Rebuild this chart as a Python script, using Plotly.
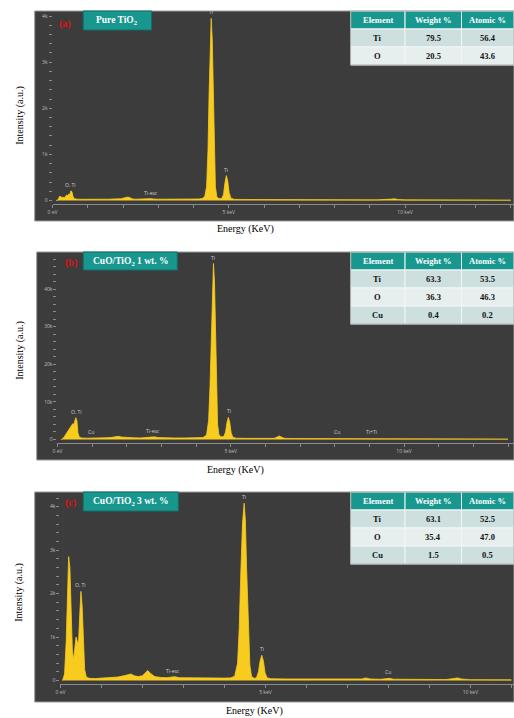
import plotly.graph_objects as go

W, H = 514, 718
def px(x): return x / W
def py(y): return 1 - y / H

# ---------------- data ----------------
# Panel (a) Pure TiO2
energy_a = [0.10, 0.15, 0.18, 0.21, 0.24, 0.27, 0.30, 0.33, 0.37, 0.40, 0.43, 0.46, 0.49, 0.52, 0.55,
            0.58, 0.62, 0.70, 0.85, 1.00, 1.15, 1.30, 1.45, 1.60, 1.75, 1.85, 1.95, 2.02, 2.08, 2.14,
            2.20, 2.27, 2.35, 2.50, 2.65, 2.72, 2.78, 2.85, 3.00, 3.20, 3.40, 3.60, 3.80, 4.00, 4.15,
            4.25, 4.32, 4.37, 4.41, 4.44, 4.47, 4.50, 4.53, 4.56, 4.59, 4.62, 4.66, 4.72, 4.80, 4.85,
            4.89, 4.93, 4.97, 5.01, 5.06, 5.15, 5.40, 5.70, 6.00, 6.40, 6.80, 7.20, 7.60, 8.00, 8.40,
            8.80, 9.20, 9.50, 9.62, 9.70, 9.80, 10.0, 10.5, 11.0, 11.5, 12.0, 12.5, 13.0]
counts_a = [0, 10, 60, 95, 80, 60, 75, 55, 90, 120, 105, 140, 130, 210, 190,
            90, 40, 28, 26, 24, 27, 25, 30, 28, 34, 30, 38, 55, 72, 75,
            58, 35, 28, 27, 30, 38, 42, 32, 28, 27, 26, 28, 27, 29, 32,
            45, 90, 300, 1100, 2300, 3400, 3950, 3500, 2300, 1000, 300, 80, 40, 45, 130,
            380, 540, 420, 170, 50, 25, 22, 20, 22, 26, 19, 18, 17, 18, 16,
            15, 15, 18, 30, 38, 22, 14, 13, 12, 11, 10, 10, 9]

# Panel (b) CuO/TiO2 1 wt.%
energy_b = [0.10, 0.15, 0.20, 0.25, 0.30, 0.35, 0.40, 0.44, 0.47, 0.50, 0.53, 0.56, 0.59, 0.63, 0.70,
            0.85, 1.00, 1.20, 1.40, 1.55, 1.65, 1.75, 1.85, 2.00, 2.20, 2.40, 2.60, 2.72, 2.80, 2.90,
            3.10, 3.40, 3.70, 4.00, 4.20, 4.30, 4.36, 4.40, 4.44, 4.47, 4.50, 4.53, 4.56, 4.59, 4.62,
            4.66, 4.72, 4.80, 4.85, 4.89, 4.93, 4.97, 5.01, 5.06, 5.15, 5.40, 5.70, 6.00, 6.25, 6.33,
            6.40, 6.47, 6.55, 6.80, 7.20, 7.60, 8.00, 8.05, 8.40, 8.80, 9.00, 9.30, 9.70, 10.0, 10.5,
            11.0, 11.5, 12.0, 12.5, 13.0]
counts_b = [0, 200, 800, 1500, 2200, 3000, 3900, 4200, 4000, 5000, 5800, 5000, 1800, 600, 400,
            350, 340, 380, 450, 550, 750, 850, 650, 500, 450, 420, 480, 650, 700, 500,
            420, 400, 420, 450, 500, 1200, 5000, 14000, 30000, 41000, 46800, 42000, 29000, 13000, 4000,
            1200, 700, 800, 2000, 4500, 5900, 4600, 1800, 600, 350, 300, 280, 270, 300, 600,
            950, 600, 300, 260, 240, 230, 260, 280, 220, 220, 250, 210, 200, 190, 180,
            170, 160, 150, 140, 130]

# Panel (c) CuO/TiO2 3 wt.%
energy_c = [0.05, 0.10, 0.14, 0.17, 0.20, 0.23, 0.26, 0.29, 0.32, 0.35, 0.38, 0.41, 0.44, 0.47, 0.50,
            0.53, 0.56, 0.59, 0.63, 0.70, 0.85, 1.00, 1.20, 1.40, 1.55, 1.65, 1.72, 1.80, 1.90, 2.00,
            2.08, 2.13, 2.20, 2.30, 2.45, 2.60, 2.72, 2.80, 2.90, 3.10, 3.40, 3.70, 4.00, 4.15, 4.25,
            4.32, 4.36, 4.40, 4.44, 4.48, 4.51, 4.54, 4.58, 4.62, 4.66, 4.72, 4.78, 4.83, 4.87, 4.91,
            4.95, 4.99, 5.04, 5.15, 5.50, 5.90, 6.20, 6.35, 6.45, 6.70, 7.00, 7.35, 7.45, 7.55, 7.80,
            7.95, 8.03, 8.12, 8.50, 9.00, 9.40, 9.60, 9.68, 9.78, 10.0, 10.5, 11.0]
counts_c = [0, 150, 900, 2000, 2850, 2600, 1500, 700, 480, 750, 1000, 900, 850, 1500, 2050,
            1700, 800, 250, 80, 50, 45, 55, 60, 80, 110, 140, 150, 110, 90, 110,
            200, 230, 160, 90, 70, 65, 80, 85, 65, 60, 55, 60, 55, 60, 100,
            400, 1200, 2500, 3600, 4080, 3700, 2600, 1200, 350, 100, 50, 60, 200, 450, 580,
            450, 180, 60, 40, 35, 32, 30, 45, 40, 28, 28, 35, 60, 35, 28,
            45, 50, 30, 25, 22, 22, 45, 60, 35, 20, 18, 16]

# Peak labels
peak_text_a = ["Ti", "Ti", "O, Ti", "Ti-esc"]
peak_e_a = [4.50, 4.93, 0.52, 2.78]
peak_y_a = [3950, 540, 210, 42]

peak_text_b = ["Ti", "Ti", "O, Ti", "Cu", "Ti-esc", "Cu", "Ti+Ti"]
peak_e_b = [4.50, 4.96, 0.55, 0.96, 2.77, 8.06, 9.06]
peak_y_b = [46800, 5900, 5800, 300, 600, 300, 300]

peak_text_c = ["Ti", "Ti", "O, Ti", "Ti-esc", "Cu"]
peak_e_c = [4.48, 4.91, 0.50, 2.75, 8.00]
peak_y_c = [4080, 580, 2050, 85, 50]

# Tables
elements_a = ["Ti", "O"]
weight_a = [79.5, 20.5]
atomic_a = [56.4, 43.6]
elements_b = ["Ti", "O", "Cu"]
weight_b = [63.3, 36.3, 0.4]
atomic_b = [53.5, 46.3, 0.2]
elements_c = ["Ti", "O", "Cu"]
weight_c = [63.1, 35.4, 1.5]
atomic_c = [52.5, 47.0, 0.5]
table_header = ["Element", "Weight %", "Atomic %"]

# Axis ticks
x_major_vals = [0, 5, 10]
x_major_text = ["0 eV", "5 keV", "10 keV"]
yticks_a = [0, 1000, 2000, 3000, 4000]
yticklabels_a = ["0", "1k", "2k", "3k", "4k"]
yticks_b = [0, 10000, 20000, 30000, 40000]
yticklabels_b = ["0", "10k", "20k", "30k", "40k"]
yticks_c = [0, 1000, 2000, 3000, 4000]
yticklabels_c = ["0", "1k", "2k", "3k", "4k"]

titles = ["Pure TiO<sub>2</sub>", "CuO/TiO<sub>2</sub> 1 wt. %", "CuO/TiO<sub>2</sub> 3 wt. %"]
panel_tags = ["(a)", "(b)", "(c)"]

# ---------------- styles / geometry ----------------
DARK = "#3c3c3c"
YEL = "#f8cc1f"
TEAL = "#18978f"
TICKC = "#bdbdbd"
SERIF = "Liberation Serif"
SANS = "Open Sans"
ROW_FILLS = ["#cde0df", "#e7efee"]
COL_EDGES = [349, 404, 461, 514]
ROW_H = 18

panels = [
    dict(E=energy_a, C=counts_a, pt=peak_text_a, pe=peak_e_a, py=peak_y_a,
         dark=(30, 514, 11, 221), xdom=(48, 514), ydom=(11, 204), xr=[0, 466 / 35.6],
         yr=[-76, 4110], yt=yticks_a, yl=yticklabels_a, minor=200,
         box=(79, 148, 11, 30), tag=(61, 24),
         tbl=dict(el=elements_a, w=weight_a, at=atomic_a, top=11),
         ytitle=(15, 115), xtitle=(243, 229)),
    dict(E=energy_b, C=counts_b, pt=peak_text_b, pe=peak_e_b, py=peak_y_b,
         dark=(32, 514, 252, 460), xdom=(53, 514), ydom=(252, 443), xr=[0, 461 / 35.0],
         yr=[-931, 49867], yt=yticks_b, yl=yticklabels_b, minor=2000,
         box=(79, 174, 252, 270), tag=(67, 263),
         tbl=dict(el=elements_b, w=weight_b, at=atomic_b, top=252),
         ytitle=(15, 350), xtitle=(233, 470)),
    dict(E=energy_c, C=counts_c, pt=peak_text_c, pe=peak_e_c, py=peak_y_c,
         dark=(30, 514, 492, 702), xdom=(56, 514), ydom=(492, 683.5), xr=[0, 458 / 41.4],
         yr=[-69, 4338], yt=yticks_c, yl=yticklabels_c, minor=200,
         box=(79, 175, 492, 511), tag=(66, 503),
         tbl=dict(el=elements_c, w=weight_c, at=atomic_c, top=492),
         ytitle=(14, 592), xtitle=(252, 711)),
]

fig = go.Figure()
shapes = []
annotations = []
layout_axes = {}

for i, p in enumerate(panels):
    n = "" if i == 0 else str(i + 1)
    xa, ya = "x" + n, "y" + n

    fig.add_trace(go.Scatter(x=p["E"], y=p["C"], xaxis=xa, yaxis=ya, mode="lines",
                             line=dict(color=YEL, width=0.8), fill="tozeroy", fillcolor=YEL,
                             hoverinfo="skip", showlegend=False))

    x0, x1, y0, y1 = p["dark"]
    shapes.append(dict(type="rect", xref="paper", yref="paper", x0=px(x0), x1=px(x1),
                       y0=py(y1), y1=py(y0), fillcolor=DARK, line=dict(color="#9a9a9a", width=1),
                       layer="below"))

    layout_axes["xaxis" + n] = dict(
        domain=[px(p["xdom"][0]), px(p["xdom"][1])], range=p["xr"], anchor=ya,
        tickvals=x_major_vals, ticktext=x_major_text, ticks="outside", ticklen=3, tickwidth=1,
        tickcolor="#8a8a8a", tickfont=dict(size=5, color=TICKC, family=SANS),
        minor=dict(dtick=1, tick0=0, ticks="outside", ticklen=3, tickcolor="#8a8a8a"),
        showline=True, linecolor="#8a8a8a", linewidth=1, showgrid=False, zeroline=False,
        fixedrange=True)
    layout_axes["yaxis" + n] = dict(
        domain=[py(p["ydom"][1]), py(p["ydom"][0])], range=p["yr"], anchor=xa,
        tickvals=p["yt"], ticktext=p["yl"], ticks="outside", ticklen=3, tickwidth=1,
        tickcolor="#8a8a8a", tickfont=dict(size=5, color=TICKC, family=SANS),
        minor=dict(dtick=p["minor"], tick0=0, ticks="outside", ticklen=3, tickcolor="#8a8a8a"),
        showline=False, showgrid=False, zeroline=False, fixedrange=True)

    # peak labels
    for t, e, yv in zip(p["pt"], p["pe"], p["py"]):
        annotations.append(dict(x=e, y=yv, xref=xa, yref=ya, text=t, showarrow=False,
                                yanchor="bottom", yshift=1,
                                font=dict(size=5, color="#d0d0d0", family=SANS)))

    # title box
    bx0, bx1, by0, by1 = p["box"]
    shapes.append(dict(type="rect", xref="paper", yref="paper", x0=px(bx0), x1=px(bx1),
                       y0=py(by1), y1=py(by0), fillcolor=TEAL, line=dict(color="#11706a", width=1)))
    annotations.append(dict(x=px((bx0 + bx1) / 2), y=py((by0 + by1) / 2), xref="paper", yref="paper",
                            text="<b>" + titles[i] + "</b>", showarrow=False,
                            xanchor="center", yanchor="middle",
                            font=dict(size=9.5, color="white", family=SERIF)))
    annotations.append(dict(x=px(p["tag"][0]), y=py(p["tag"][1]), xref="paper", yref="paper",
                            text="<b>" + panel_tags[i] + "</b>", showarrow=False,
                            xanchor="center", yanchor="middle",
                            font=dict(size=10, color="#e01010", family=SERIF)))

    # axis titles
    annotations.append(dict(x=px(p["ytitle"][0]), y=py(p["ytitle"][1]), xref="paper", yref="paper",
                            text="Intensity (a.u.)", textangle=-90, showarrow=False,
                            xanchor="center", yanchor="middle",
                            font=dict(size=10, color="black", family=SERIF)))
    annotations.append(dict(x=px(p["xtitle"][0]), y=py(p["xtitle"][1]), xref="paper", yref="paper",
                            text="Energy (KeV)", showarrow=False,
                            xanchor="center", yanchor="middle",
                            font=dict(size=10, color="black", family=SERIF)))

    # composition table (drawn with shapes + text)
    tb = p["tbl"]
    top = tb["top"]
    rows = [table_header] + [[e, "%.1f" % w, "%.1f" % a]
                             for e, w, a in zip(tb["el"], tb["w"], tb["at"])]
    for r, row in enumerate(rows):
        ry0 = top + r * ROW_H
        ry1 = ry0 + ROW_H
        fill = TEAL if r == 0 else ROW_FILLS[(r - 1) % 2]
        for c, txt in enumerate(row):
            cx0, cx1 = COL_EDGES[c], COL_EDGES[c + 1]
            shapes.append(dict(type="rect", xref="paper", yref="paper",
                               x0=px(cx0), x1=px(cx1), y0=py(ry1), y1=py(ry0),
                               fillcolor=fill, line=dict(color="#f2f6f6", width=1)))
            annotations.append(dict(x=px((cx0 + cx1) / 2), y=py((ry0 + ry1) / 2),
                                    xref="paper", yref="paper", text="<b>" + txt + "</b>",
                                    showarrow=False, xanchor="center", yanchor="middle",
                                    font=dict(size=8.5, family=SERIF,
                                              color="white" if r == 0 else "#111111")))
    tbottom = top + len(rows) * ROW_H
    shapes.append(dict(type="rect", xref="paper", yref="paper",
                       x0=px(COL_EDGES[0]), x1=px(COL_EDGES[-1]), y0=py(tbottom), y1=py(top),
                       fillcolor="rgba(0,0,0,0)", line=dict(color="#a8a8a8", width=1)))

fig.update_layout(width=W, height=H, margin=dict(l=0, r=0, t=0, b=0, pad=0),
                  paper_bgcolor="white", plot_bgcolor="rgba(0,0,0,0)", showlegend=False,
                  shapes=shapes, annotations=annotations, **layout_axes)

fig.write_html("out.html", config={"displayModeBar": False},
               post_script="document.body.style.margin='0';document.body.style.overflow='hidden';")
